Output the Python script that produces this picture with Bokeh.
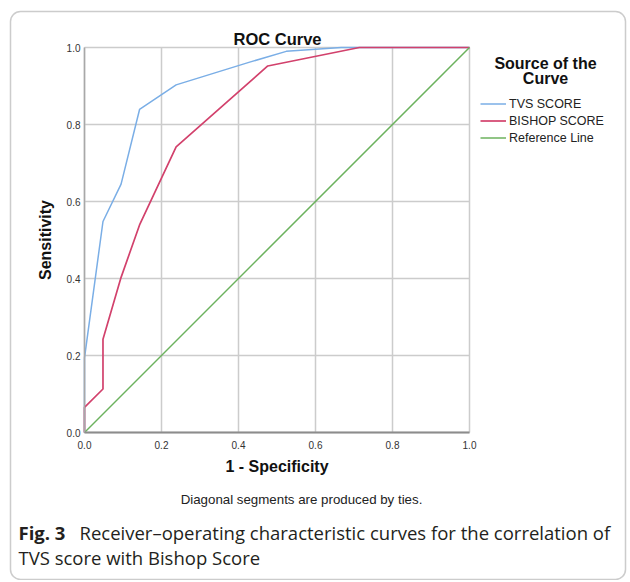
from bokeh.plotting import figure
from bokeh.models import (Range1d, FixedTicker, Label, Legend, LegendItem, BoxAnnotation,
                          LinearAxis)
from bokeh.embed import file_html
from bokeh.resources import INLINE

# ---- data ----
tvs_fpr = [0.0, 0.0, 0.048, 0.095, 0.143, 0.238, 0.429, 0.524, 0.667, 1.0]
tvs_tpr = [0.0, 0.194, 0.548, 0.645, 0.839, 0.903, 0.962, 0.990, 1.0, 1.0]
bishop_fpr = [0.0, 0.0, 0.048, 0.048, 0.095, 0.143, 0.238, 0.476, 0.714, 1.0]
bishop_tpr = [0.0, 0.065, 0.113, 0.242, 0.403, 0.539, 0.742, 0.952, 1.0, 1.0]
ref_fpr = [0.0, 1.0]
ref_tpr = [0.0, 1.0]
ticks = [0.0, 0.2, 0.4, 0.6, 0.8, 1.0]
tick_labels = ["0.0", "0.2", "0.4", "0.6", "0.8", "1.0"]
axis_min, axis_max = 0.0, 1.0
series_names = ["TVS SCORE", "BISHOP SCORE", "Reference Line"]
series_colors = ["#7aaee6", "#d2416c", "#6cb25e"]

FONT = "Liberation Sans"
CAP_FONT = "Open Sans"

# ---- layout (pixels) ----
W, H = 628, 580
FL, FT, FS = 84, 47, 385      # ROC area: left, top, side length

p = figure(width=W, height=H,
           x_range=Range1d(-FL / FS, (W - FL) / FS),
           y_range=Range1d(-(H - FT - FS) / FS, (FT + FS) / FS),
           x_axis_type=None, y_axis_type=None,
           output_backend="svg", toolbar_location=None, title=None, min_border=0)
p.outline_line_color = None
p.background_fill_color = "white"
p.border_fill_color = "white"

# grid lines at the tick positions, limited to the 0..1 square
n = len(ticks)
p.segment(x0=ticks, y0=[axis_min] * n, x1=ticks, y1=[axis_max] * n,
          line_color="#cccccc", line_width=1.5)
p.segment(x0=[axis_min] * n, y0=ticks, x1=[axis_max] * n, y1=ticks,
          line_color="#cccccc", line_width=1.5)

r_tvs = p.line(tvs_fpr, tvs_tpr, line_color=series_colors[0], line_width=1.5)
r_bis = p.line(bishop_fpr, bishop_tpr, line_color=series_colors[1], line_width=1.7)
r_ref = p.line(ref_fpr, ref_tpr, line_color=series_colors[2], line_width=1.5)

labels = {t: l for t, l in zip(ticks, tick_labels)}

def style_axis(ax):
    ax.major_label_overrides = labels
    ax.major_tick_out = 0
    ax.major_tick_in = 0
    ax.minor_tick_out = 0
    ax.minor_tick_in = 0
    ax.major_label_text_font = FONT
    ax.major_label_text_font_size = "10px"
    ax.major_label_text_color = "#333333"
    ax.axis_label_text_font = FONT
    ax.axis_label_text_font_size = "16px"
    ax.axis_label_text_font_style = "bold"
    ax.axis_label_text_color = "#111111"

xaxis = LinearAxis(fixed_location=axis_min, bounds=(axis_min, axis_max),
                   ticker=FixedTicker(ticks=ticks), axis_label="1 - Specificity")
style_axis(xaxis)
xaxis.major_label_standoff = 8
xaxis.axis_label_standoff = 6
xaxis.axis_line_color = "#8c8c8c"
xaxis.axis_line_width = 2
p.add_layout(xaxis, "below")

yaxis = LinearAxis(fixed_location=axis_min, bounds=(axis_min, axis_max),
                   ticker=FixedTicker(ticks=ticks), axis_label="Sensitivity")
style_axis(yaxis)
yaxis.major_label_standoff = 4
yaxis.axis_label_standoff = 10
yaxis.axis_line_color = "#a8a8a8"
yaxis.axis_line_width = 1.5
p.add_layout(yaxis, "left")

# legend (position: lower-left corner, from the canvas' lower-left corner)
legend = Legend(items=[LegendItem(label=series_names[0], renderers=[r_tvs]),
                       LegendItem(label=series_names[1], renderers=[r_bis]),
                       LegendItem(label=series_names[2], renderers=[r_ref])],
                location=(480, H - 146), orientation="vertical",
                glyph_width=26, glyph_height=17, label_height=17, label_standoff=3,
                spacing=0, padding=0, margin=0,
                label_text_font=FONT, label_text_font_size="12.5px", label_text_color="#222222",
                border_line_color=None, background_fill_alpha=0)
p.add_layout(legend, "center")

def lab(text, x, y, size, style="normal", font=FONT, align="center", color="#111111"):
    # x, y are page pixels from the top-left corner
    p.add_layout(Label(text=text, x=x, y=H - y, x_units="screen", y_units="screen",
                       text_font=font, text_font_size=size, text_font_style=style,
                       text_align=align, text_baseline="middle", text_color=color))

lab("ROC Curve", 277, 38, "16.5px", "bold")
lab("Source of the", 545, 63, "16px", "bold")
lab("Curve", 545, 78, "16px", "bold")
lab("Diagonal segments are produced by ties.", 301, 499, "13.3px", color="#222222")
lab("Fig. 3", 18, 532, "18.5px", "bold", CAP_FONT, "left", "#231f20")
lab("Receiver\u2013operating characteristic curves for the correlation of", 79, 532, "18.5px",
    "normal", CAP_FONT, "left", "#231f20")
lab("TVS score with Bishop Score", 18, 557, "18.5px", "normal", CAP_FONT, "left", "#231f20")

box = BoxAnnotation(left=10, right=625, top=H - 11, bottom=1,
                    left_units="screen", right_units="screen",
                    top_units="screen", bottom_units="screen",
                    fill_alpha=0, line_color="#555555", line_width=1.5, border_radius=10)
p.add_layout(box)

open("out.html", "w").write(file_html(p, INLINE))
